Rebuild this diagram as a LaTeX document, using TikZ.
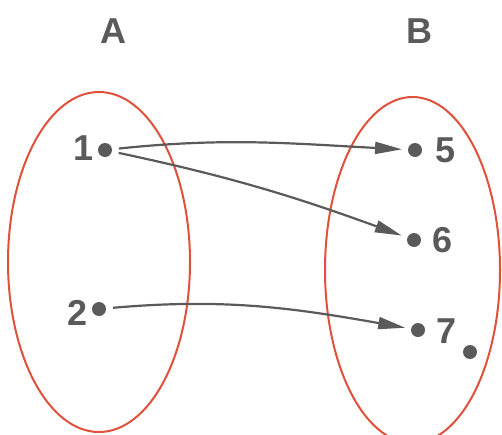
\documentclass[tikz,border=0pt]{standalone}
\usepackage{fontspec}
\setmainfont{Liberation Sans}
\usetikzlibrary{arrows.meta}
\definecolor{ink}{HTML}{5A5A5A}
\definecolor{setred}{HTML}{E0503A}
\tikzset{
  lbl/.style={inner sep=0pt, anchor=base, text=ink, font=\bfseries\fontsize{36}{36}\selectfont},
  setlbl/.style={inner sep=0pt, anchor=base, text=ink, font=\bfseries\fontsize{36}{36}\selectfont},
  elt/.style={circle, fill=ink, minimum size=14pt, inner sep=0pt, outer sep=0pt},
  setring/.style={draw=setred, line width=2pt},
  arr/.style={draw=ink, line width=2.2pt, -{Triangle[length=27pt,width=12pt]}, shorten <=7pt, shorten >=6pt}
}
\begin{document}
\begin{tikzpicture}[x=1pt,y=-1pt]
\useasboundingbox (0,0) rectangle (502,434);
\begin{scope}
\clip (0,0) rectangle (502,434);
\draw[setring] (99,262) ellipse [x radius=91, y radius=170];
\draw[setring] (412.5,270) ellipse [x radius=87.5, y radius=173];
\end{scope}
\node[setlbl] (A) at (113,43) {A};
\node[setlbl] (B) at (419,43) {B};
\node[elt] (p1) at (105,150) {};
\node[elt] (p2) at (99,309) {};
\node[elt] (q5) at (415,150) {};
\node[elt] (q6) at (414,240) {};
\node[elt] (q7) at (418,330) {};
\node[elt] (x) at (470,352) {};
\node[lbl] (l1) at (83.5,160) {1};
\node[lbl] (l2) at (77.5,325) {2};
\node[lbl] (l5) at (446,162) {5};
\node[lbl] (l6) at (443,252) {6};
\node[lbl] (l7) at (447,343) {7};
\draw[arr] (p1) to[out=6, in=177] (q5);
\draw[arr] (p1) to[out=-12, in=160] (q6);
\draw[arr] (p2) to[out=5, in=170] (q7);
\end{tikzpicture}
\end{document}
